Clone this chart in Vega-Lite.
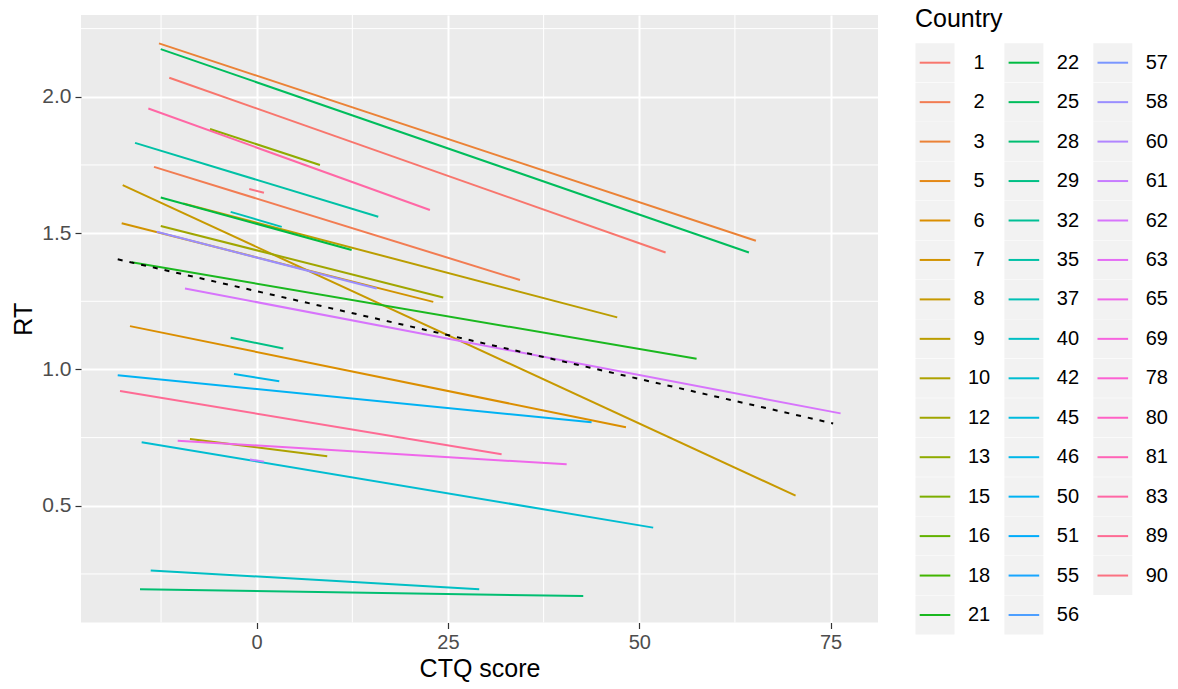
{
  "$schema": "https://vega.github.io/schema/vega-lite/v6.json",
  "autosize": {"type": "none"},
  "padding": {"left": 81, "top": 15, "right": 300, "bottom": 66.5},
  "width": 797,
  "height": 607.5,
  "background": "white",
  "config": {"view": {"fill": "#EBEBEB", "stroke": null}, "font": "Liberation Sans"},
  "datasets": {
    "lines": [
      {"Country":"1","CTQ":-11.42,"RT":2.070},{"Country":"1","CTQ":53.44,"RT":1.429},
      {"Country":"2","CTQ":-13.42,"RT":1.743},{"Country":"2","CTQ":34.41,"RT":1.328},
      {"Country":"3","CTQ":-12.77,"RT":2.196},{"Country":"3","CTQ":65.24,"RT":1.472},
      {"Country":"6","CTQ":-16.56,"RT":1.159},{"Country":"6","CTQ":48.26,"RT":0.788},
      {"Country":"7","CTQ":-17.64,"RT":1.536},{"Country":"7","CTQ":23.08,"RT":1.248},
      {"Country":"8","CTQ":-17.51,"RT":1.676},{"Country":"8","CTQ":70.43,"RT":0.537},
      {"Country":"9","CTQ":-9.59,"RT":1.609},{"Country":"9","CTQ":47.12,"RT":1.191},
      {"Country":"10","CTQ":-8.72,"RT":0.745},{"Country":"10","CTQ":9.22,"RT":0.682},
      {"Country":"12","CTQ":-12.54,"RT":1.526},{"Country":"12","CTQ":24.38,"RT":1.264},
      {"Country":"13","CTQ":-6.10,"RT":1.882},{"Country":"13","CTQ":8.27,"RT":1.750},
      {"Country":"21","CTQ":-16.33,"RT":1.393},{"Country":"21","CTQ":57.49,"RT":1.039},
      {"Country":"22","CTQ":-12.54,"RT":1.631},{"Country":"22","CTQ":12.41,"RT":1.438},
      {"Country":"25","CTQ":-12.54,"RT":2.175},{"Country":"25","CTQ":64.33,"RT":1.429},
      {"Country":"28","CTQ":-15.25,"RT":0.194},{"Country":"28","CTQ":42.68,"RT":0.169},
      {"Country":"29","CTQ":-3.40,"RT":1.116},{"Country":"29","CTQ":3.48,"RT":1.077},
      {"Country":"35","CTQ":-15.9,"RT":1.831},{"Country":"35","CTQ":15.89,"RT":1.560},
      {"Country":"37","CTQ":-3.40,"RT":1.578},{"Country":"37","CTQ":3.27,"RT":1.523},
      {"Country":"40","CTQ":-13.85,"RT":0.263},{"Country":"40","CTQ":29.09,"RT":0.194},
      {"Country":"42","CTQ":-15.03,"RT":0.733},{"Country":"42","CTQ":51.82,"RT":0.420},
      {"Country":"46","CTQ":-2.97,"RT":0.983},{"Country":"46","CTQ":2.95,"RT":0.957},
      {"Country":"50","CTQ":-18.16,"RT":0.979},{"Country":"50","CTQ":43.77,"RT":0.806},
      {"Country":"58","CTQ":-13.07,"RT":1.505},{"Country":"58","CTQ":15.68,"RT":1.297},
      {"Country":"61","CTQ":-0.88,"RT":0.670},{"Country":"61","CTQ":0.95,"RT":0.662},
      {"Country":"62","CTQ":-9.37,"RT":1.297},{"Country":"62","CTQ":76.31,"RT":0.839},
      {"Country":"65","CTQ":-10.32,"RT":0.739},{"Country":"65","CTQ":40.51,"RT":0.652},
      {"Country":"83","CTQ":-14.16,"RT":1.957},{"Country":"83","CTQ":22.64,"RT":1.585},
      {"Country":"89","CTQ":-17.86,"RT":0.921},{"Country":"89","CTQ":32.01,"RT":0.689},
      {"Country":"90","CTQ":-0.97,"RT":1.662},{"Country":"90","CTQ":0.95,"RT":1.648}
    ],
    "overall": [
      {"CTQ":-18.16,"RT":1.404},{"CTQ":75.34,"RT":0.802}
    ],
    "minorx": [{"CTQ":-12.5},{"CTQ":12.5},{"CTQ":37.5},{"CTQ":62.5}],
    "minory": [{"RT":0.25},{"RT":0.75},{"RT":1.25},{"RT":1.75},{"RT":2.25}],
    "legendtitle": [{"label":"Country"}],
    "legend": [
      {"Country":"1","col":0,"row":0},{"Country":"2","col":0,"row":1},{"Country":"3","col":0,"row":2},
      {"Country":"5","col":0,"row":3},{"Country":"6","col":0,"row":4},{"Country":"7","col":0,"row":5},
      {"Country":"8","col":0,"row":6},{"Country":"9","col":0,"row":7},{"Country":"10","col":0,"row":8},
      {"Country":"12","col":0,"row":9},{"Country":"13","col":0,"row":10},{"Country":"15","col":0,"row":11},
      {"Country":"16","col":0,"row":12},{"Country":"18","col":0,"row":13},{"Country":"21","col":0,"row":14},
      {"Country":"22","col":1,"row":0},{"Country":"25","col":1,"row":1},{"Country":"28","col":1,"row":2},
      {"Country":"29","col":1,"row":3},{"Country":"32","col":1,"row":4},{"Country":"35","col":1,"row":5},
      {"Country":"37","col":1,"row":6},{"Country":"40","col":1,"row":7},{"Country":"42","col":1,"row":8},
      {"Country":"45","col":1,"row":9},{"Country":"46","col":1,"row":10},{"Country":"50","col":1,"row":11},
      {"Country":"51","col":1,"row":12},{"Country":"55","col":1,"row":13},{"Country":"56","col":1,"row":14},
      {"Country":"57","col":2,"row":0},{"Country":"58","col":2,"row":1},{"Country":"60","col":2,"row":2},
      {"Country":"61","col":2,"row":3},{"Country":"62","col":2,"row":4},{"Country":"63","col":2,"row":5},
      {"Country":"65","col":2,"row":6},{"Country":"69","col":2,"row":7},{"Country":"78","col":2,"row":8},
      {"Country":"80","col":2,"row":9},{"Country":"81","col":2,"row":10},{"Country":"83","col":2,"row":11},
      {"Country":"89","col":2,"row":12},{"Country":"90","col":2,"row":13}
    ]
  },
  "layer": [
    {
      "layer": [
        {
          "data": {"name": "minorx"},
          "mark": {"type": "rule", "color": "white", "strokeWidth": 1},
          "encoding": {
            "x": {"field": "CTQ", "type": "quantitative", "scale": {"domain": [-22.96, 81.2], "nice": false, "zero": false}}
          }
        },
        {
          "data": {"name": "minory"},
          "mark": {"type": "rule", "color": "white", "strokeWidth": 1},
          "encoding": {
            "y": {"field": "RT", "type": "quantitative", "scale": {"domain": [0.072, 2.30], "nice": false, "zero": false}}
          }
        },
        {
          "data": {"name": "lines"},
          "mark": {"type": "line", "strokeWidth": 2},
          "encoding": {
            "x": {"field": "CTQ", "type": "quantitative",
              "scale": {"domain": [-22.96, 81.2], "nice": false, "zero": false},
              "axis": {"values": [0, 25, 50, 75], "title": "CTQ score", "grid": true, "gridColor": "white", "gridWidth": 2,
                "domain": false, "tickColor": "#333333", "tickSize": 6, "tickWidth": 1.2,
                "labelColor": "#4D4D4D", "labelFontSize": 20, "labelPadding": 4,
                "titleFontSize": 25, "titleColor": "black", "titleFontWeight": "normal", "titlePadding": 4}},
            "y": {"field": "RT", "type": "quantitative",
              "scale": {"domain": [0.072, 2.30], "nice": false, "zero": false},
              "axis": {"values": [0.5, 1, 1.5, 2], "format": ".1f", "title": "RT", "grid": true, "gridColor": "white", "gridWidth": 2,
                "domain": false, "tickColor": "#333333", "tickSize": 6, "tickWidth": 1.2,
                "labelColor": "#4D4D4D", "labelFontSize": 21, "labelPadding": 4,
                "titleFontSize": 25, "titleColor": "black", "titleFontWeight": "normal", "titlePadding": 5}},
            "color": {"field": "Country", "type": "nominal", "legend": null,
              "scale": {
                "domain": ["1","2","3","5","6","7","8","9","10","12","13","15","16","18","21","22","25","28","29","32","35","37","40","42","45","46","50","51","55","56","57","58","60","61","62","63","65","69","78","80","81","83","89","90"],
                "range": ["#F8766D","#F27C52","#EB8236","#E48816","#DB8E00","#D29300","#C79900","#BB9D00","#AEA200","#A0A600","#8FAB00","#7CAE00","#62B200","#41B500","#1AB81F","#00BB42","#00BD5C","#00BE71","#00C085","#00C096","#00C1A6","#00C0B5","#00BFC4","#00BDD1","#00BBDE","#00B7E9","#00B2F3","#00ACFB","#18A6FF","#4D9FFF","#7996FF","#9A8EFF","#B185FF","#C77CFF","#D774FC","#E46CF5","#EF67EA","#F763DF","#FC61D3","#FF61C5","#FF63B6","#FF67A5","#FE6B94","#FB7181"]
              }}
          }
        },
        {
          "data": {"name": "overall"},
          "mark": {"type": "line", "color": "black", "strokeWidth": 2, "strokeDash": [5, 7]},
          "encoding": {
            "x": {"field": "CTQ", "type": "quantitative"},
            "y": {"field": "RT", "type": "quantitative"}
          }
        }
      ]
    },
    {
      "layer": [
        {"data": {"name": "legend"},
         "mark": {"type": "square", "size": 1521, "color": "#F2F2F2", "filled": true, "opacity": 1, "strokeWidth": 0},
         "encoding": {
           "x": {"field": "col", "type": "quantitative", "scale": {"domain": [0, 2], "range": [854, 1031.8], "nice": false, "zero": false}, "axis": null},
           "y": {"field": "row", "type": "quantitative", "scale": {"domain": [0, 14], "range": [47.7, 600], "nice": false, "zero": false}, "axis": null}
         }},
        {"data": {"name": "legend"},
         "mark": {"type": "rule", "strokeWidth": 2, "xOffset": -15.3, "x2Offset": 15.3},
         "encoding": {
           "x": {"field": "col", "type": "quantitative", "axis": null},
           "x2": {"field": "col"},
           "y": {"field": "row", "type": "quantitative", "axis": null},
           "color": {"field": "Country", "type": "nominal", "legend": null}}},
        {"data": {"name": "legend"},
         "mark": {"type": "text", "dx": 44, "align": "center", "baseline": "middle", "fontSize": 20, "color": "black"},
         "encoding": {
           "x": {"field": "col", "type": "quantitative", "axis": null},
           "y": {"field": "row", "type": "quantitative", "axis": null},
           "text": {"field": "Country", "type": "nominal"}}},
        {"data": {"name": "legendtitle"},
         "mark": {"type": "text", "dx": -20, "dy": -35.7, "align": "left", "baseline": "alphabetic", "fontSize": 25, "color": "black"},
         "encoding": {
           "x": {"datum": 0, "type": "quantitative", "axis": null},
           "y": {"datum": 0, "type": "quantitative", "axis": null},
           "text": {"field": "label", "type": "nominal"}}}
      ]
    }
  ],
  "resolve": {"scale": {"x": "independent", "y": "independent"}}
}
